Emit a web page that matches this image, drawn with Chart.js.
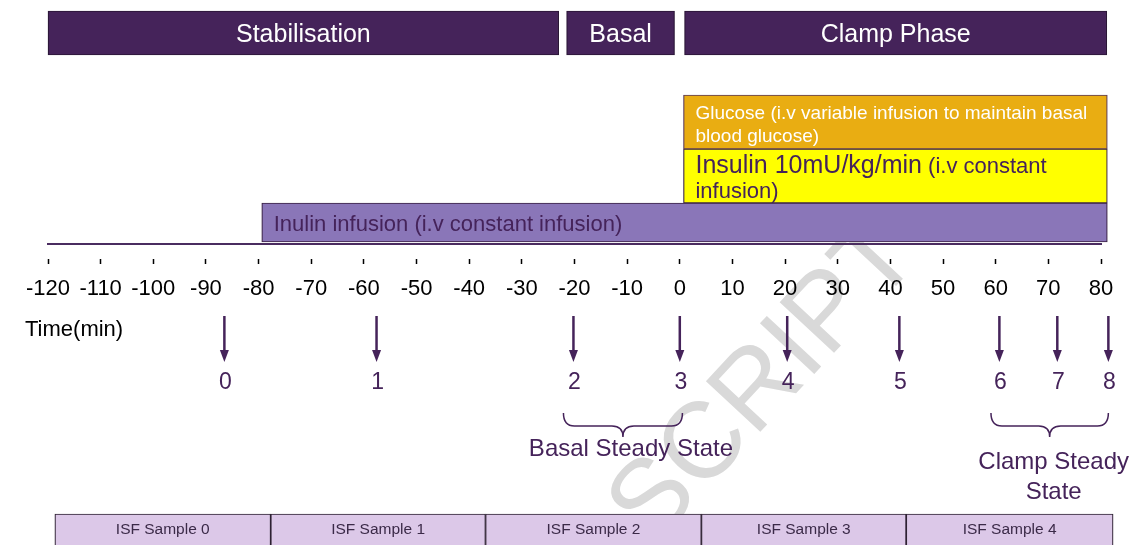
<!DOCTYPE html>
<html>
<head>
<meta charset="utf-8">
<script src="https://cdn.jsdelivr.net/npm/chart.js@4"></script>
<style>
  html, body { margin: 0; padding: 0; background: #fff; }
  canvas { display: block; }
</style>
</head>
<body>
<canvas id="myChart" width="1141" height="545"></canvas>
<script>
// Datos (minutos)

const timeMin = -120;
const timeMax = 80;
const timeStep = 10;

const phaseNames = ["Stabilisation", "Basal", "Clamp Phase"];
const phaseStart = [-120, -21.5, 0.9];
const phaseEnd = [-23, -1, 81.1];

const glucoseRange = [0.7, 81.2];
const insulinRange = [0.7, 81.2];
const inulinRange = [-79.4, 81.2];

const sampleLabels = ["0", "1", "2", "3", "4", "5", "6", "7", "8"];
const sampleTimes = [-86.5, -57.6, -20.2, 0, 20.4, 41.7, 60.7, 71.7, 81.4];

const steadyNames = [["Basal Steady State"], ["Clamp Steady", "State"]];
const steadyStart = [-22.1, 59.1];
const steadyEnd = [0.5, 81.4];

const isfNames = ["ISF Sample 0", "ISF Sample 1", "ISF Sample 2", "ISF Sample 3", "ISF Sample 4"];
const isfStart = [-118.7, -77.7, -36.9, 4.1, 43.0];
const isfEnd = [-77.7, -36.9, 4.1, 43.0, 82.3];

// Layout (pixeles)

const FONT = '"Liberation Sans", Arial, Helvetica, sans-serif';
const PURPLE = "#45235a";
const ROW = {
  phase: { y: 33, h: 44 },
  glucose: { y: 122, h: 54 },
  insulin: { y: 176, h: 54 },
  inulin: { y: 222.5, h: 39 },
  isf: { y: 530, h: 32 },
};
const AXIS_Y = 244;

const ctx = document.getElementById("myChart");

function floating(starts, ends, row) {
  return starts.map((s, i) => ({ x: [s, ends[i]], y: row.y }));
}

function boxDataset(label, data, row, bg, border) {
  return {
    label: label,
    data: data,
    barThickness: row.h,
    backgroundColor: bg,
    borderColor: border,
    borderWidth: 1.2,
    borderSkipped: false,
    clip: false,
  };
}

function drawRich(c, x, baseline, parts, color) {
  let cx = x;
  parts.forEach((p) => {
    c.font = p.size + "px " + FONT;
    c.fillStyle = color;
    c.textAlign = "left";
    c.textBaseline = "alphabetic";
    c.fillText(p.t, cx, baseline);
    cx += c.measureText(p.t).width;
  });
}

function drawBrace(c, x1, x2, top, mid, tip) {
  const xm = (x1 + x2) / 2;
  const r = 11;
  c.beginPath();
  c.moveTo(x1, top);
  c.quadraticCurveTo(x1, mid, x1 + r, mid);
  c.lineTo(xm - r, mid);
  c.quadraticCurveTo(xm, mid, xm, tip);
  c.quadraticCurveTo(xm, mid, xm + r, mid);
  c.lineTo(x2 - r, mid);
  c.quadraticCurveTo(x2, mid, x2, top);
  c.stroke();
}

const watermark = {
  id: "watermark",
  beforeDraw(chart) {
    const c = chart.ctx;
    c.save();
    c.translate(652, 548);
    c.rotate((-47 * Math.PI) / 180);
    c.font = "108px " + FONT;
    c.fillStyle = "#d9d9d9";
    c.textAlign = "left";
    c.textBaseline = "alphabetic";
    c.fillText("SCRIPT", 0, 0);
    c.restore();
  },
};

const annotations = {
  id: "annotations",
  afterDatasetsDraw(chart) {
    const c = chart.ctx;
    const x = chart.scales.x;
    c.save();

    // Fases
    c.fillStyle = "#fff";
    c.font = "25px " + FONT;
    c.textAlign = "center";
    c.textBaseline = "middle";
    phaseNames.forEach((n, i) => {
      const px = (x.getPixelForValue(phaseStart[i]) + x.getPixelForValue(phaseEnd[i])) / 2;
      c.fillText(n, px, ROW.phase.y + 2);
    });

    // Infusiones
    const gx = x.getPixelForValue(glucoseRange[0]) + 12;
    drawRich(c, gx, 119, [{ t: "Glucose (i.v variable infusion to maintain basal", size: 19 }], "#fff");
    drawRich(c, gx, 141.5, [{ t: "blood glucose)", size: 19 }], "#fff");
    const ix = x.getPixelForValue(insulinRange[0]) + 12;
    drawRich(c, ix, 172.5, [
      { t: "Insulin 10mU/kg/min", size: 25 },
      { t: " (i.v constant", size: 22 },
    ], PURPLE);
    drawRich(c, ix, 198, [{ t: "infusion)", size: 22 }], PURPLE);
    const ux = x.getPixelForValue(inulinRange[0]) + 12;
    drawRich(c, ux, 231, [{ t: "Inulin infusion (i.v constant infusion)", size: 22 }], PURPLE);

    // Time(min)
    c.fillStyle = "#000";
    c.font = "22px " + FONT;
    c.textAlign = "left";
    c.textBaseline = "middle";
    c.fillText("Time(min)", 25, 330);

    // Flechas de muestras
    c.strokeStyle = PURPLE;
    c.fillStyle = PURPLE;
    sampleTimes.forEach((t, i) => {
      const px = x.getPixelForValue(t);
      c.lineWidth = 2.5;
      c.beginPath();
      c.moveTo(px, 316);
      c.lineTo(px, 353);
      c.stroke();
      c.beginPath();
      c.moveTo(px - 4.5, 350);
      c.lineTo(px + 4.5, 350);
      c.lineTo(px, 362);
      c.closePath();
      c.fill();
      c.font = "23px " + FONT;
      c.textAlign = "center";
      c.textBaseline = "middle";
      c.fillText(sampleLabels[i], px + 1, 383);
    });

    // Llaves de estado estacionario
    c.lineWidth = 1.5;
    steadyNames.forEach((lines, i) => {
      const x1 = x.getPixelForValue(steadyStart[i]);
      const x2 = x.getPixelForValue(steadyEnd[i]);
      drawBrace(c, x1, x2, 413, 426, 437);
      c.font = "24px " + FONT;
      c.textAlign = "center";
      c.textBaseline = "middle";
      const cx = (x1 + x2) / 2 + (lines.length === 1 ? 8 : 4);
      lines.forEach((l, j) => {
        c.fillText(l, cx, lines.length === 1 ? 449 : 462 + j * 30);
      });
    });

    // ISF
    c.fillStyle = "#3b2a48";
    c.font = "15.5px " + FONT;
    isfNames.forEach((n, i) => {
      const px = (x.getPixelForValue(isfStart[i]) + x.getPixelForValue(isfEnd[i])) / 2;
      c.fillText(n, px, ROW.isf.y);
    });

    c.restore();
  },
};

const myChart = new Chart(ctx, {
  type: "bar",
  data: {
    datasets: [
      boxDataset("Fases", floating(phaseStart, phaseEnd, ROW.phase), ROW.phase, "#45235a", "#2a1636"),
      boxDataset("Glucose", floating([glucoseRange[0]], [glucoseRange[1]], ROW.glucose), ROW.glucose, "#e9ad12", "#5a3a5a"),
      boxDataset("Insulin", floating([insulinRange[0]], [insulinRange[1]], ROW.insulin), ROW.insulin, "#ffff00", "#3a2244"),
      boxDataset("Inulin", floating([inulinRange[0]], [inulinRange[1]], ROW.inulin), ROW.inulin, "#8a76b8", "#3a2244"),
      boxDataset("ISF", floating(isfStart, isfEnd, ROW.isf), ROW.isf, "#dcc8e8", "#2e2233"),
    ],
  },
  options: {
    indexAxis: "y",
    responsive: false,
    animation: false,
    grouped: false,
    layout: { padding: { left: 48, right: 40, top: 0, bottom: 0 } },
    plugins: {
      legend: { display: false },
      tooltip: { enabled: false },
    },
    scales: {
      y: {
        type: "linear",
        min: 0,
        max: 545,
        reverse: true,
        offset: false,
        display: false,
      },
      x: {
        type: "linear",
        min: timeMin,
        max: timeMax,
        offset: false,
        position: { y: AXIS_Y },
        border: { display: true, color: "#4a2c60", width: 2 },
        grid: {
          drawOnChartArea: false,
          drawTicks: true,
          tickLength: 19,
          tickWidth: 1.5,
          tickColor: "#000",
          tickBorderDash: [0, 14, 5, 100],
        },
        ticks: {
          stepSize: timeStep,
          color: "#000",
          padding: 13,
          maxRotation: 0,
          autoSkip: false,
          font: { family: FONT, size: 22 },
        },
      },
    },
  },
  plugins: [watermark, annotations],
});
</script>
</body>
</html>
